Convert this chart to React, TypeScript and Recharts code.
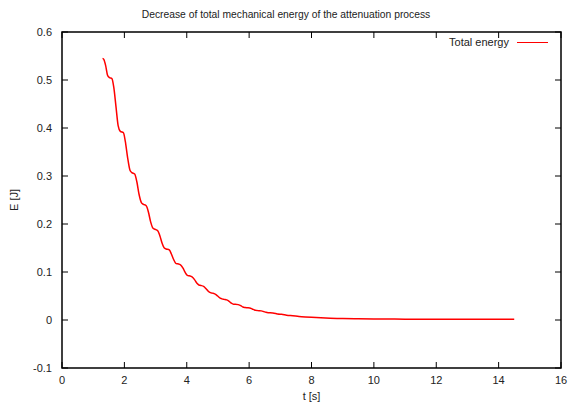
import React from 'react';
import { LineChart, Line, XAxis, YAxis, Legend } from 'recharts';

const timeValues = [
  1.30, 1.34, 1.40, 1.46, 1.52, 1.60, 1.66, 1.73, 1.80, 1.87,
  1.97, 2.03, 2.10, 2.18, 2.24, 2.33, 2.40, 2.47, 2.55, 2.61,
  2.70, 2.77, 2.84, 2.92, 2.98, 3.07, 3.14, 3.21, 3.28, 3.34,
  3.44, 3.51, 3.58, 3.65, 3.71, 3.80, 3.88, 3.95, 4.02, 4.08,
  4.17, 4.25, 4.32, 4.39, 4.45, 4.54, 4.62, 4.69, 4.76, 4.82,
  4.91, 4.99, 5.06, 5.13, 5.19, 5.28, 5.36, 5.43, 5.50, 5.56,
  5.65, 5.73, 5.80, 5.87, 5.93, 6.02, 6.10, 6.17, 6.24, 6.30,
  6.39, 6.47, 6.54, 6.61, 6.67, 6.76, 6.85, 6.92, 6.99, 7.04,
  7.2, 7.4, 7.6, 7.8, 8.0, 8.3, 8.6, 9.0, 9.5, 10.0,
  10.5, 11.0, 11.5, 12.0, 13.0, 14.0, 14.5,
];

const energyValues = [
  0.545, 0.543, 0.530, 0.510, 0.505, 0.503, 0.485, 0.445, 0.405, 0.393,
  0.390, 0.372, 0.340, 0.312, 0.307, 0.304, 0.288, 0.262, 0.244, 0.241,
  0.238, 0.225, 0.205, 0.191, 0.189, 0.186, 0.175, 0.160, 0.150, 0.148,
  0.146, 0.137, 0.126, 0.118, 0.117, 0.115, 0.108, 0.099, 0.093, 0.092,
  0.090, 0.084, 0.077, 0.073, 0.072, 0.070, 0.065, 0.060, 0.057, 0.056,
  0.054, 0.050, 0.046, 0.044, 0.043, 0.042, 0.039, 0.035, 0.033, 0.033,
  0.032, 0.030, 0.027, 0.026, 0.0255, 0.025, 0.023, 0.021, 0.020, 0.0195,
  0.019, 0.0175, 0.016, 0.0152, 0.015, 0.0145, 0.0135, 0.0125, 0.012, 0.0118,
  0.010, 0.0088, 0.0074, 0.0064, 0.0056, 0.0046, 0.0038, 0.0031, 0.0025, 0.0021,
  0.0019, 0.0017, 0.0016, 0.0016, 0.0015, 0.0015, 0.0015,
];

const xTicks = [0, 2, 4, 6, 8, 10, 12, 14, 16];
const yTicks = [-0.1, 0, 0.1, 0.2, 0.3, 0.4, 0.5, 0.6];

const titleText = 'Decrease of total mechanical energy of the attenuation process';
const seriesName = 'Total energy';
const xLabel = 't [s]';
const yLabel = 'E [J]';

const data = timeValues.map((t, i) => ({ t, e: energyValues[i] }));

const W = 569;
const H = 403;
const PL = 62;
const PR = 561;
const PT = 32;
const PB = 368;
const FONT = '"Liberation Sans", Arial, Helvetica, sans-serif';
const TICK = 6;

const BottomTick = (props: any) => {
  const { x, payload } = props;
  return (
    <g>
      {payload.value === xTicks[0] && (
        <path
          d={`M${PL},${PT}H${PR}V${PB}H${PL}Z`}
          stroke="#000"
          strokeWidth={1.5}
          fill="none"
        />
      )}
      <path d={`M${x},${PB}V${PB - TICK}`} stroke="#000" strokeWidth={1} fill="none" />
      <path d={`M${x},${PT}V${PT + TICK}`} stroke="#000" strokeWidth={1} fill="none" />
      <text x={x} y={PB + 16} textAnchor="middle" fontSize={11} fontFamily={FONT} fill="#222">
        {payload.value}
      </text>
    </g>
  );
};

const LeftTick = (props: any) => {
  const { y, payload } = props;
  const v = Math.round(payload.value * 10) / 10;
  return (
    <g>
      <path d={`M${PL},${y}H${PL + TICK}`} stroke="#000" strokeWidth={1} fill="none" />
      <path d={`M${PR},${y}H${PR - TICK}`} stroke="#000" strokeWidth={1} fill="none" />
      <text x={52} y={y + 4} textAnchor="end" fontSize={11} fontFamily={FONT} fill="#222">
        {String(v)}
      </text>
    </g>
  );
};

const LegendContent = () => (
  <div
    style={{
      display: 'flex',
      justifyContent: 'flex-end',
      alignItems: 'center',
      fontFamily: FONT,
      fontSize: 11,
      lineHeight: '13px',
      color: '#222',
      width: 548,
    }}
  >
    <span>{seriesName}</span>
    <span
      style={{
        display: 'inline-block',
        width: 31,
        height: 1.5,
        background: '#ff0000',
        marginLeft: 8,
      }}
    />
  </div>
);

export default function App() {
  return (
    <div style={{ position: 'absolute', left: 0, top: 0, width: W, height: H, background: '#fff' }}>
      <div
        style={{
          position: 'absolute',
          left: 0,
          top: 8,
          width: 572,
          textAlign: 'center',
          fontFamily: FONT,
          fontSize: 10.3,
          color: '#222',
          lineHeight: '13px',
        }}
      >
        {titleText}
      </div>
      <LineChart width={W} height={H} data={data} margin={{ top: PT, right: W - PR, bottom: 0, left: 0 }}>
        <XAxis
          xAxisId="bottom"
          dataKey="t"
          type="number"
          domain={[0, 16]}
          ticks={xTicks}
          interval={0}
          height={H - PB}
          tickLine={false}
          tick={<BottomTick />}
          axisLine={false}
          label={{
            content: (p: any) => {
              const vb = p.viewBox;
              return (
                <text x={vb.x + vb.width / 2} y={vb.y + 32} textAnchor="middle" fontSize={11} fontFamily={FONT} fill="#222">
                  {xLabel}
                </text>
              );
            },
          }}
        />
        <YAxis
          yAxisId="left"
          type="number"
          domain={[-0.1, 0.6]}
          ticks={yTicks}
          interval={0}
          width={PL}
          tickLine={false}
          tick={<LeftTick />}
          axisLine={false}
          label={{
            content: (p: any) => {
              const vb = p.viewBox;
              const cx = 14;
              const cy = vb.y + vb.height / 2;
              return (
                <text
                  x={cx}
                  y={cy}
                  transform={`rotate(-90, ${cx}, ${cy})`}
                  textAnchor="middle"
                  dominantBaseline="central"
                  fontSize={11}
                  fontFamily={FONT}
                  fill="#222"
                >
                  {yLabel}
                </text>
              );
            },
          }}
        />
        <Legend
          layout="horizontal"
          verticalAlign="middle"
          align="center"
          content={<LegendContent />}
          wrapperStyle={{ position: 'absolute', left: 0, top: 36, width: 548 }}
        />
        <Line
          xAxisId="bottom"
          yAxisId="left"
          dataKey="e"
          name={seriesName}
          type="monotone"
          stroke="#ff0000"
          strokeWidth={1.5}
          dot={false}
          isAnimationActive={false}
        />
      </LineChart>
    </div>
  );
}
